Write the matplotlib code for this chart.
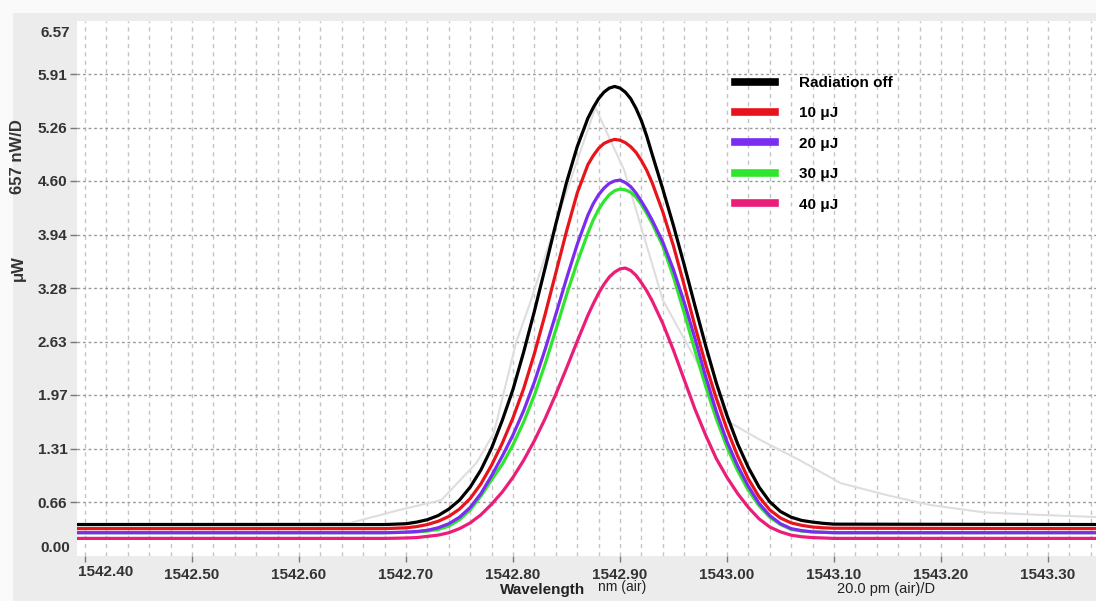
import matplotlib
matplotlib.use("Agg")
import matplotlib.pyplot as plt
import matplotlib.transforms as mtransforms
from matplotlib.patches import Rectangle
from matplotlib.lines import Line2D
from matplotlib.ticker import MultipleLocator

plt.rcParams['font.family'] = ['Liberation Sans', 'DejaVu Sans']

# ---------------- data ----------------
wavelength = [1542.39,
              1542.68, 1542.69, 1542.70, 1542.71, 1542.72, 1542.73, 1542.74, 1542.75, 1542.76, 1542.77,
              1542.78, 1542.79, 1542.80, 1542.81, 1542.82, 1542.83, 1542.84, 1542.85, 1542.86, 1542.87,
              1542.875, 1542.88, 1542.885, 1542.89, 1542.895, 1542.90, 1542.905, 1542.91, 1542.915,
              1542.92, 1542.925,
              1542.93, 1542.94, 1542.95, 1542.96, 1542.97, 1542.98, 1542.99, 1543.00, 1543.01, 1543.02,
              1543.03, 1543.04, 1543.05, 1543.06, 1543.07, 1543.08, 1543.09, 1543.10,
              1543.35]

p_off = [0.38,
         0.38, 0.385, 0.39, 0.41, 0.44, 0.49, 0.57, 0.68, 0.84, 1.05,
         1.32, 1.66, 2.04, 2.50, 3.00, 3.53, 4.07, 4.58, 5.02, 5.37,
         5.50, 5.61, 5.69, 5.74, 5.76, 5.74, 5.69, 5.61, 5.49, 5.34, 5.15,
         4.93, 4.50, 4.05, 3.57, 3.07, 2.58, 2.12, 1.72, 1.37, 1.08,
         0.84, 0.66, 0.54, 0.47, 0.43, 0.41, 0.395, 0.385,
         0.38]

p_10uj = [0.33,
          0.33, 0.335, 0.34, 0.355, 0.38, 0.42, 0.48, 0.57, 0.70, 0.88,
          1.11, 1.38, 1.69, 2.05, 2.48, 2.96, 3.47, 3.98, 4.45, 4.80,
          4.91, 5.00, 5.06, 5.09, 5.11, 5.10, 5.07, 5.02, 4.95, 4.85, 4.73,
          4.58, 4.22, 3.80, 3.32, 2.82, 2.35, 1.93, 1.55, 1.22, 0.94,
          0.72, 0.56, 0.46, 0.40, 0.37, 0.35, 0.34, 0.335,
          0.33]

p_20uj = [0.28,
          0.28, 0.283, 0.287, 0.295, 0.31, 0.34, 0.39, 0.47, 0.59, 0.76,
          0.98, 1.22, 1.48, 1.78, 2.13, 2.53, 2.96, 3.40, 3.82, 4.18,
          4.32, 4.43, 4.51, 4.57, 4.60, 4.61, 4.58, 4.53, 4.45, 4.35, 4.24,
          4.12, 3.85, 3.51, 3.11, 2.67, 2.20, 1.77, 1.40, 1.10, 0.85,
          0.64, 0.49, 0.39, 0.33, 0.305, 0.29, 0.285, 0.28,
          0.28]

p_30uj = [0.28,
          0.28, 0.282, 0.285, 0.29, 0.30, 0.32, 0.36, 0.44, 0.56, 0.73,
          0.93, 1.12, 1.36, 1.64, 1.97, 2.35, 2.77, 3.20, 3.60, 3.96,
          4.12, 4.25, 4.35, 4.43, 4.48, 4.50, 4.49, 4.46, 4.40, 4.31, 4.20,
          4.08, 3.80, 3.42, 2.98, 2.52, 2.08, 1.68, 1.33, 1.04, 0.80,
          0.61, 0.47, 0.38, 0.32, 0.30, 0.29, 0.285, 0.28,
          0.28]

p_40uj = [0.21,
          0.21, 0.212, 0.215, 0.22, 0.235, 0.25, 0.28, 0.33, 0.40, 0.50,
          0.63, 0.78, 0.96, 1.17, 1.41, 1.68, 1.98, 2.30, 2.63, 2.95,
          3.09, 3.22, 3.33, 3.42, 3.48, 3.52, 3.53, 3.50, 3.44, 3.35, 3.25,
          3.13, 2.85, 2.52, 2.16, 1.80, 1.48, 1.19, 0.96, 0.76, 0.59,
          0.45, 0.35, 0.29, 0.25, 0.23, 0.22, 0.215, 0.21,
          0.21]

# faint grey background trace
wl_grey = [1542.39, 1542.648, 1542.694, 1542.733, 1542.766, 1542.782, 1542.803, 1542.817,
           1542.841, 1542.877, 1542.904, 1542.940, 1543.003, 1543.031, 1543.068, 1543.106,
           1543.15, 1543.19, 1543.24, 1543.29, 1543.35]
val_grey = [0.39, 0.40, 0.56, 0.68, 1.14, 1.50, 2.62, 3.14,
            4.12, 5.50, 4.73, 3.14, 1.63, 1.42, 1.17, 0.89,
            0.74, 0.62, 0.53, 0.50, 0.47]

series_labels = ["Radiation off", "10 μJ", "20 μJ", "30 μJ", "40 μJ"]
series_colors = ["#000000", "#e8141c", "#7a2cf0", "#2ee62e", "#ea1e78"]

x_ticks = [1542.40, 1542.50, 1542.60, 1542.70, 1542.80, 1542.90, 1543.00, 1543.10, 1543.20, 1543.30]
x_tick_labels = ["1542.40", "1542.50", "1542.60", "1542.70", "1542.80", "1542.90",
                 "1543.00", "1543.10", "1543.20", "1543.30"]
y_ticks = [0.0, 0.657, 1.314, 1.971, 2.628, 3.285, 3.942, 4.599, 5.256, 5.913, 6.57]
y_tick_labels = ["0.00", "0.66", "1.31", "1.97", "2.63", "3.28", "3.94", "4.60", "5.26", "5.91", "6.57"]

# ---------------- figure ----------------
W, H = 1096, 601
fig = plt.figure(figsize=(W / 100, H / 100), dpi=100)
fig.patch.set_facecolor("#fafafa")
fig.patches.append(Rectangle((13 / W, 0), 1, (H - 13) / H, transform=fig.transFigure,
                             facecolor="#ececec", edgecolor="none", zorder=-10))

ax_l, ax_r, ax_t, ax_b = 77, 1096, 20.5, 555.5
ax = fig.add_axes([ax_l / W, (H - ax_b) / H, (ax_r - ax_l) / W, (ax_b - ax_t) / H])
ax.set_zorder(1)
ax.set_facecolor("white")
for s in ax.spines.values():
    s.set_visible(False)

ax.set_xlim(1542.3925, 1543.3449)
ax.set_ylim(y_ticks[0], y_ticks[-1])

# grid
ax.set_yticks(y_ticks[1:-1])
ax.set_yticklabels(y_tick_labels[1:-1])
ax.set_xticks(x_ticks)
ax.set_xticklabels(x_tick_labels)
ax.xaxis.set_minor_locator(MultipleLocator(0.02))
ax.grid(axis="y", which="major", color="#9a9a9a", linestyle=(0, (2, 2)), linewidth=1.0)
ax.grid(axis="x", which="both", color="#c4c4c4", linestyle=(0, (3, 3)), linewidth=1.0)
ax.set_axisbelow(True)

ax.tick_params(axis="x", which="major", direction="out", length=4, width=1, color="#777777",
               pad=5, labelsize=11, labelcolor="#333333")
ax.tick_params(axis="x", which="minor", length=0)
ax.tick_params(axis="y", which="major", direction="out", length=5, width=1, color="#777777",
               pad=2, labelsize=11, labelcolor="#333333")
for lab in ax.get_xticklabels() + ax.get_yticklabels():
    lab.set_fontweight("bold")
first = ax.get_xticklabels()[0]
first.set_horizontalalignment("left")
first.set_transform(first.get_transform() +
                    mtransforms.ScaledTranslation(-7 / 100, 3 / 100, fig.dpi_scale_trans))

# end labels of the y axis (drawn inside the range like the instrument display)
ax.text((70 - ax_l) / (ax_r - ax_l), (ax_b - 33) / (ax_b - ax_t), y_tick_labels[-1],
        transform=ax.transAxes, ha="right", va="center", fontsize=11, fontweight="bold",
        color="#333333")
ax.text((70 - ax_l) / (ax_r - ax_l), (ax_b - 548) / (ax_b - ax_t), y_tick_labels[0],
        transform=ax.transAxes, ha="right", va="center", fontsize=11, fontweight="bold",
        color="#333333")

# curves
ax.plot(wl_grey, val_grey, color="#dedede", linewidth=1.5, zorder=2)
series = [p_off, p_10uj, p_20uj, p_30uj, p_40uj]
zorders = [8, 7, 6, 5, 4]
for v, c, z in zip(series, series_colors, zorders):
    ax.plot(wavelength, v, color=c, linewidth=2.3, zorder=z, solid_joinstyle="round")

# legend
handles = [Line2D([], [], color=c, linewidth=5.5) for c in series_colors]
ax.legend(handles, series_labels, loc="upper left", bbox_to_anchor=(0.6457, 0.896),
          frameon=False, borderaxespad=0, borderpad=0, handlelength=2.6,
          handletextpad=1.6, labelspacing=1.07, prop=dict(weight="bold", size=11))

# axis captions
fig.text(18 / W, (H - 268) / H, "μW", rotation=90, ha="center", va="center",
         fontsize=12, fontweight="bold", color="#333333")
fig.text(18 / W, (H - 157) / H, "657 nW/D", rotation=90, ha="center", va="center",
         fontsize=12, fontweight="bold", color="#333333")
fig.text(500 / W, (H - 590) / H, "Wavelength", ha="left", va="center",
         fontsize=11, fontweight="bold", color="#222222")
fig.text(598 / W, (H - 587) / H, "nm (air)", ha="left", va="center",
         fontsize=10, color="#222222")
fig.text(837 / W, (H - 589) / H, "20.0 pm (air)/D", ha="left", va="center",
         fontsize=10.5, color="#222222")

fig.savefig("out.png", dpi=100, facecolor=fig.get_facecolor())
